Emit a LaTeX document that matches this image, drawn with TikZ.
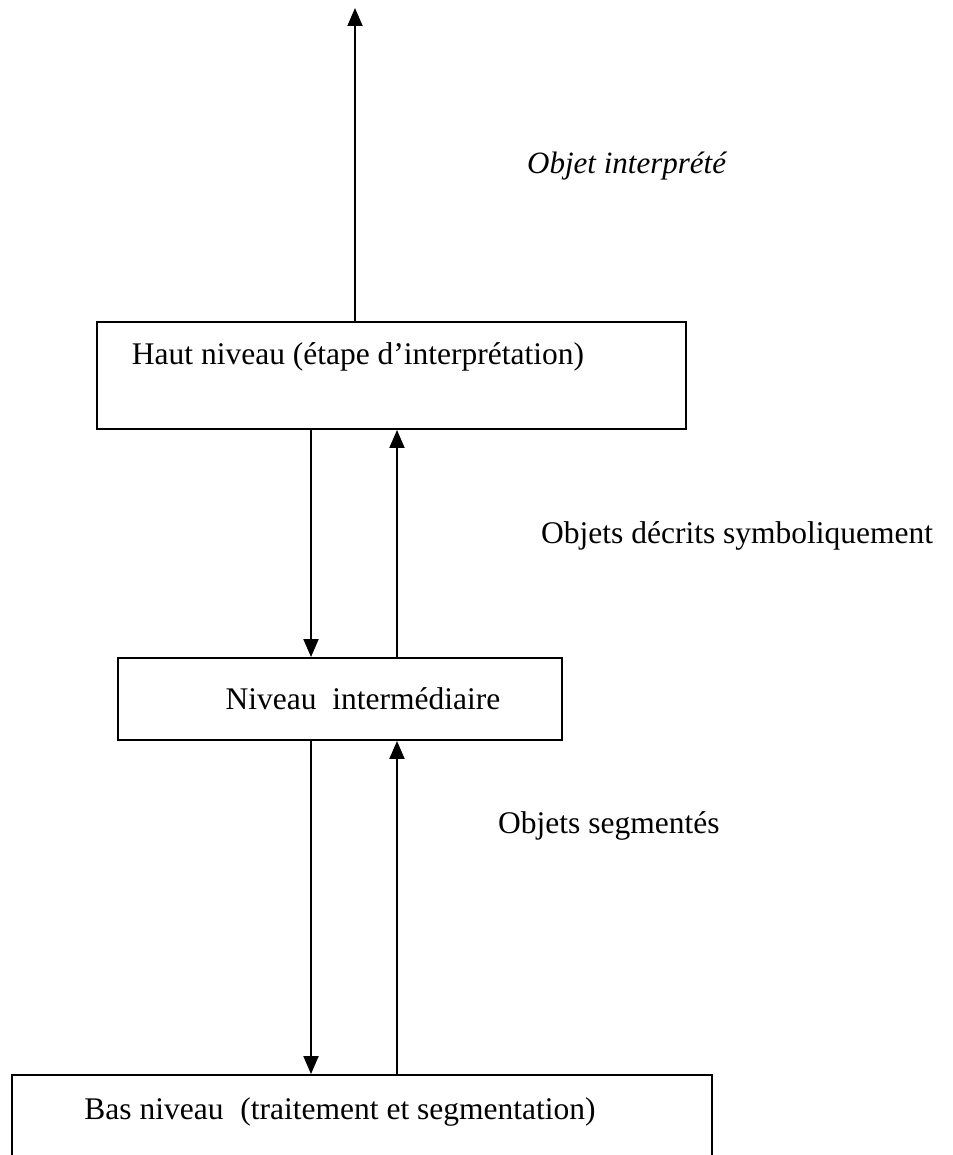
\documentclass[tikz,border=0pt]{standalone}
\usepackage{fontspec}
\setmainfont{Liberation Serif}
\usetikzlibrary{arrows.meta}
\begin{document}
\begin{tikzpicture}[x=1pt,y=-1pt,
  every node/.style={font=\fontsize{31.5}{36}\selectfont},
  levelbox/.style={draw,line width=1.9pt,inner sep=0pt},
  plain/.style={inner sep=0pt},
  arr/.style={line width=1.9pt,-{Triangle[width=15pt,length=18pt]}}]
\useasboundingbox (0,0) rectangle (952,1155);
\clip (0,0) rectangle (952,1155);

% the three processing levels
\node[levelbox,minimum width=589pt,minimum height=107pt] (haut) at (391.5,375.5) {};
\node[plain] (hautT) at (358,357) {Haut niveau (étape d’interprétation)};

\node[levelbox,minimum width=444pt,minimum height=82pt] (inter) at (340,699) {};
\node[plain] (interT) at (363,699) {Niveau\ \ intermédiaire};

\node[levelbox,minimum width=700pt,minimum height=200pt] (bas) at (362,1175) {};
\node[plain] (basT) at (340,1112) {Bas niveau\hspace{17pt}(traitement et segmentation)};

% columns of the vertical links
\coordinate (down) at (311,0);
\coordinate (up) at (397,0);
\coordinate (out) at (355,8);

% output of the high level
\draw[arr] (haut.north -| out) -- (out);

% links between levels
\draw[arr] (haut.south -| down) -- (inter.north -| down);
\draw[arr] (inter.north -| up) -- (haut.south -| up);
\draw[arr] (inter.south -| down) -- (bas.north -| down);
\draw[arr] (bas.north -| up) -- (inter.south -| up);

% labels of the data flowing upwards
\node[plain,anchor=west,font=\fontsize{31}{36}\selectfont\itshape] (l1) at (527,166) {Objet interprété};
\node[plain,anchor=west] (l2) at (541,536) {Objets décrits symboliquement};
\node[plain,anchor=west] (l3) at (498,826) {Objets segmentés};
\end{tikzpicture}
\end{document}
